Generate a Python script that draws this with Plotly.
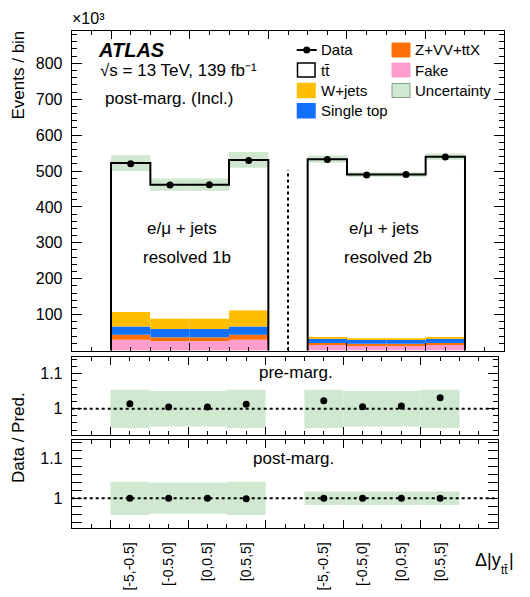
import numpy as np
import plotly.graph_objects as go

# ---------------- data (thousands of events) ----------------
bin_centers = [1.5, 2.5, 3.5, 4.5, 6.5, 7.5, 8.5, 9.5]
bin_labels = ["[-5,-0.5]", "[-0.5,0]", "[0,0.5]", "[0.5,5]",
              "[-5,-0.5]", "[-0.5,0]", "[0,0.5]", "[0.5,5]"]
fake = [30, 26, 26, 30, 17, 14, 14, 17]
zvv_ttx = [14, 11, 11, 14, 4, 5, 5, 4]
single_top = [23, 23, 23, 23, 11, 11, 11, 11]
wjets = [40, 29, 29, 45, 6, 4, 4, 6]
ttbar = [415, 373, 373, 419, 495, 456, 456, 502]
data = [520, 461, 462, 529, 532, 489, 490, 539]
unc_main = [22, 17, 17, 22, 10, 7, 7, 9]

ratio_pre = [1.014, 1.005, 1.005, 1.013, 1.023, 1.006, 1.008, 1.031]
unc_pre = [0.054, 0.050, 0.050, 0.054, 0.054, 0.050, 0.050, 0.054]
ratio_post = [1.000, 1.000, 1.000, 0.999, 1.000, 1.000, 1.000, 1.000]
unc_post = [0.042, 0.039, 0.039, 0.042, 0.017, 0.017, 0.017, 0.017]

regions = [[0, 1, 2, 3], [4, 5, 6, 7]]

# ---------------- styling ----------------
FONT = "Liberation Sans, Arial, Helvetica, sans-serif"
W, H = 530, 597
C_FAKE = "#ff9ccc"
C_ZVV = "#ff7008"
C_ST = "#1270ff"
C_W = "#ffbf00"
C_UNC = "#cfe8cf"
C_UNC_EDGE = "#7f9f7f"


def px(x):
    return x / W


def py(y):
    return 1 - y / H


fig = go.Figure()

# stacked components (manual stacking from the arrays)
components = [("Fake", fake, C_FAKE), ("Z+VV+ttX", zvv_ttx, C_ZVV),
              ("Single top", single_top, C_ST), ("W+jets", wjets, C_W),
              ("tt", ttbar, "white")]
base = np.zeros(len(bin_centers))
for name, vals, col in components:
    fig.add_trace(go.Bar(x=bin_centers, y=vals, base=base.copy(), width=[1] * len(bin_centers),
                         marker=dict(color=col, line=dict(width=0)), xaxis="x", yaxis="y",
                         showlegend=False, name=name))
    base = base + np.array(vals)
total = base

# uncertainty band (main)
unc_arr = np.array(unc_main)
fig.add_trace(go.Bar(x=bin_centers, y=2 * unc_arr, base=total - unc_arr, width=[1] * len(bin_centers),
                     marker=dict(color=C_UNC, line=dict(width=0)), xaxis="x", yaxis="y",
                     showlegend=False))

# total prediction outline (step per region)
sx, sy = [], []
for reg in regions:
    for k, i in enumerate(reg):
        lo, hi = bin_centers[i] - 0.5, bin_centers[i] + 0.5
        if k == 0:
            sx += [lo]
            sy += [0]
        sx += [lo, hi]
        sy += [total[i], total[i]]
    sx += [bin_centers[reg[-1]] + 0.5, None]
    sy += [0, None]
fig.add_trace(go.Scatter(x=sx, y=sy, mode="lines", line=dict(color="black", width=2),
                         xaxis="x", yaxis="y", showlegend=False, hoverinfo="skip"))

# data points
fig.add_trace(go.Scatter(x=bin_centers, y=data, mode="markers",
                         marker=dict(color="black", size=7), xaxis="x", yaxis="y", showlegend=False))

# ratio panels
for ratio, unc, xa, ya in [(ratio_pre, unc_pre, "x2", "y2"), (ratio_post, unc_post, "x3", "y3")]:
    u = np.array(unc)
    fig.add_trace(go.Bar(x=bin_centers, y=2 * u, base=1 - u, width=[1] * len(bin_centers),
                         marker=dict(color=C_UNC, line=dict(width=0)), xaxis=xa, yaxis=ya,
                         showlegend=False))
    fig.add_trace(go.Scatter(x=[0, 11], y=[1, 1], mode="lines",
                             line=dict(color="black", width=2, dash="dot"),
                             xaxis=xa, yaxis=ya, showlegend=False, hoverinfo="skip"))
    fig.add_trace(go.Scatter(x=bin_centers, y=ratio, mode="markers",
                             marker=dict(color="black", size=7), xaxis=xa, yaxis=ya, showlegend=False))

# empty trace so the overlay axis carrying the long ticks of the bottom panel is drawn
fig.add_trace(go.Scatter(x=[], y=[], xaxis="x4", yaxis="y3", showlegend=False))

# ---------------- axes ----------------
half_ticks = [float(v) for v in np.arange(0.5, 11.0, 0.5)]
long_ticks = [1, 3, 5, 7, 9]
short_ticks = [v for v in half_ticks if v not in long_ticks]
other_short = [v for v in short_ticks if v not in bin_centers]


def xaxis(domain, anchor):
    return dict(domain=domain, anchor=anchor, range=[0, 11], showline=True, linecolor="black",
                linewidth=1, mirror="allticks", ticks="inside", ticklen=4, tickwidth=1,
                tickcolor="black", tickmode="array", tickvals=short_ticks,
                showticklabels=False, showgrid=False, zeroline=False,
                minor=dict(tickmode="array", tickvals=long_ticks, ticklen=8, ticks="inside",
                           tickcolor="black", tickwidth=1, showgrid=False))


def yaxis(domain, anchor, rng, tv, tt, minor_vals):
    return dict(domain=domain, anchor=anchor, range=rng, showline=True, linecolor="black",
                linewidth=1, mirror="allticks", ticks="inside", ticklen=10, tickwidth=1,
                tickcolor="black", tickmode="array", tickvals=tv, ticktext=tt,
                ticklabelstandoff=5, tickfont=dict(family=FONT, size=16, color="black"),
                showgrid=False, zeroline=False,
                minor=dict(tickmode="array", tickvals=minor_vals, ticklen=5, ticks="inside",
                           tickcolor="black", tickwidth=1, showgrid=False))


ratio_dom_x = [px(71.7), px(498.3)]
xaxis3 = dict(domain=ratio_dom_x, anchor="y3", range=[0, 11], showline=True, linecolor="black",
              linewidth=1, mirror="allticks", ticks="inside", ticklen=4, tickwidth=1,
              tickcolor="black", tickmode="array", tickvals=bin_centers, ticktext=bin_labels,
              showticklabels=True, tickangle=-90, ticklabelstandoff=8,
              tickfont=dict(family=FONT, size=14, color="black"),
              showgrid=False, zeroline=False,
              minor=dict(tickmode="array", tickvals=other_short, ticklen=4, ticks="inside",
                         tickcolor="black", tickwidth=1, showgrid=False))
xaxis4 = dict(domain=ratio_dom_x, anchor="y3", overlaying="x3", range=[0, 11], showline=False,
              mirror="ticks", ticks="inside", ticklen=8, tickwidth=1, tickcolor="black",
              tickmode="array", tickvals=long_ticks, showticklabels=False,
              showgrid=False, zeroline=False)

main_ticks = list(range(100, 900, 100))
ratio_minor = [round(v, 2) for v in np.arange(0.94, 1.15, 0.02)]

fig.update_layout(
    width=W, height=H, margin=dict(l=0, r=0, t=0, b=0),
    plot_bgcolor="white", paper_bgcolor="white", barmode="overlay", showlegend=False,
    font=dict(family=FONT, color="black"),
    xaxis=xaxis([px(71.7), px(504.3)], "y"),
    xaxis2=xaxis(ratio_dom_x, "y2"),
    xaxis3=xaxis3,
    xaxis4=xaxis4,
    yaxis=yaxis([py(350.5), py(31)], "x", [0, 890], main_ticks, [str(v) for v in main_ticks],
                list(range(0, 900, 20))),
    yaxis2=yaxis([py(435), py(356.7)], "x2", [0.926, 1.147], [1, 1.1], ["1", "1.1"], ratio_minor),
    yaxis3=yaxis([py(527.7), py(440)], "x3", [0.926, 1.147], [1, 1.1], ["1", "1.1"], ratio_minor),
)

# vertical separator in main panel
fig.add_shape(type="line", xref="x", yref="y", x0=5.5, x1=5.5, y0=0, y1=503,
              line=dict(color="black", width=2, dash="dot"), layer="above")

# ---------------- text ----------------
ann = []


def text(x, y, s, size, xanchor="left", yanchor="middle", angle=0, pad=1):
    ann.append(dict(x=px(x), y=py(y), xref="paper", yref="paper", text=s, showarrow=False,
                    xanchor=xanchor, yanchor=yanchor, textangle=angle, borderpad=pad,
                    font=dict(family=FONT, size=size, color="black")))


text(70, 29, "×10³", 16, yanchor="bottom")
text(18, 29, "Events / bin", 17, xanchor="center", yanchor="top", angle=-90)
text(18, 438, "Data / Pred.", 17, xanchor="center", yanchor="middle", angle=-90)
text(96, 50, "<b><i>ATLAS</i></b>", 20)
text(98, 70, "√s = 13 TeV, 139 fb⁻¹", 17)
text(103, 98, "post-marg. (Incl.)", 17)

text(182, 229, "e/μ + jets", 17, xanchor="center")
text(187, 257, "resolved 1b", 17, xanchor="center")
text(384, 229, "e/μ + jets", 17, xanchor="center")
text(388, 257, "resolved 2b", 17, xanchor="center")

text(296, 372, "pre-marg.", 17, xanchor="center")
text(293, 458, "post-marg.", 17, xanchor="center")

# x-axis title: Δ|y_tt̄| built from three pieces
text(474, 560, "Δ|y", 18, pad=0)
text(500, 570, "tt̄", 12, pad=0)
text(508, 560, "|", 18, pad=0)

# legend (manual, two columns)
leg1 = [("Data", None), ("tt̄", "white"), ("W+jets", C_W), ("Single top", C_ST)]
leg2 = [("Z+VV+ttX", C_ZVV), ("Fake", C_FAKE), ("Uncertainty", C_UNC)]
rows_y = [50, 70, 90.5, 110.8]
for (lab, col), yy in zip(leg1, rows_y):
    if col is None:
        fig.add_shape(type="line", xref="paper", yref="paper", x0=px(296.7), x1=px(316.7),
                      y0=py(yy), y1=py(yy), line=dict(color="black", width=2))
        fig.add_shape(type="circle", xref="paper", yref="paper", x0=px(303.2), x1=px(310.2),
                      y0=py(yy + 3.5), y1=py(yy - 3.5), fillcolor="black", line=dict(width=0))
    else:
        fig.add_shape(type="rect", xref="paper", yref="paper", x0=px(297.5), x1=px(315),
                      y0=py(yy + 7), y1=py(yy - 7), fillcolor=col,
                      line=dict(color="black" if col == "white" else col, width=1.5))
    text(319, yy, lab, 15)
for (lab, col), yy in zip(leg2, rows_y):
    edge = C_UNC_EDGE if lab == "Uncertainty" else col
    fig.add_shape(type="rect", xref="paper", yref="paper", x0=px(392), x1=px(410),
                  y0=py(yy + 7), y1=py(yy - 7), fillcolor=col, line=dict(color=edge, width=1))
    text(413, yy, lab, 15)

fig.update_layout(annotations=ann)
fig.write_html("out.html")
